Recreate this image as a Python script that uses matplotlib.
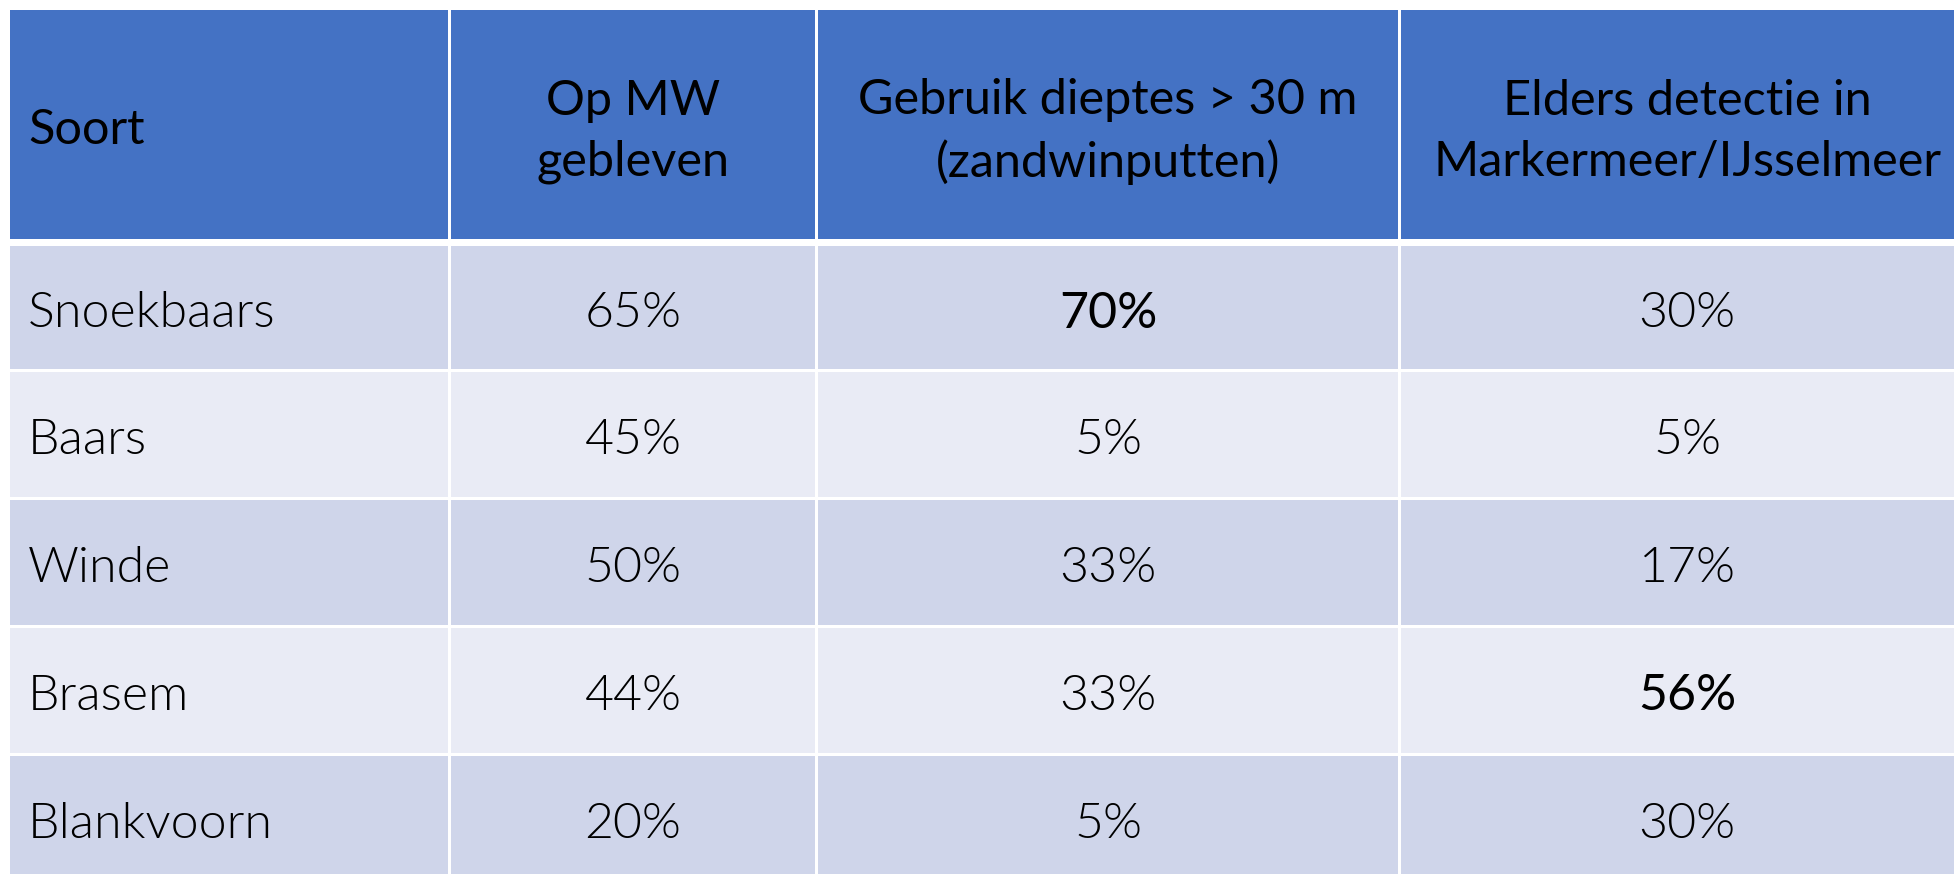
import matplotlib
matplotlib.use("Agg")
import matplotlib.pyplot as plt
from matplotlib.patches import Rectangle
from matplotlib import font_manager as fm
import os

# ---- data ----
header_labels = ["Soort", "Op MW\ngebleven", "Gebruik dieptes > 30 m\n(zandwinputten)",
                 "Elders detectie in\nMarkermeer/IJsselmeer"]
species = ["Snoekbaars", "Baars", "Winde", "Brasem", "Blankvoorn"]
op_mw = ["65%", "45%", "50%", "44%", "20%"]
diepte = ["70%", "5%", "33%", "33%", "5%"]
elders = ["30%", "5%", "17%", "56%", "30%"]
emphasis = [(0, 2), (3, 3)]  # (row, col) cells shown heavier

# ---- fonts ----
def find_font(family_key, style_key):
    for p in fm.findSystemFonts():
        name = os.path.basename(p).lower()
        if family_key in name and style_key in name and "italic" not in name:
            return p
    return None

light_path = find_font("lato", "light")
if light_path is None:
    light_path = find_font("lato", "regular")

def body_fp(size, heavy):
    if heavy or light_path is None:
        return fm.FontProperties(family="Lato", weight="normal", size=size)
    return fm.FontProperties(fname=light_path, size=size)

# ---- layout (pixels) ----
W, H = 1954, 874
col_edges = [10, 449.5, 816.5, 1399.5, 1975]
row_edges = [10, 242.5, 370.5, 498.5, 626.5, 754.5, 882.5]
vline = 2.6
hline = 2.8
header_line = 7.0
header_color = "#4472C4"
band_colors = ["#CFD5EA", "#E9EBF5"]

fig = plt.figure(figsize=(W / 100, H / 100), dpi=100)
ax = fig.add_axes([0, 0, 1, 1])
ax.set_xlim(0, W)
ax.set_ylim(H, 0)
ax.axis("off")

columns = [species, op_mw, diepte, elders]
nrows = len(species)

def cell_box(r, c):
    x0 = col_edges[c] + (0 if c == 0 else vline / 2)
    x1 = col_edges[c + 1] - (vline / 2)
    top = row_edges[r]
    bot = row_edges[r + 1]
    if r == 0:
        y0 = top
        y1 = bot - header_line / 2
    else:
        y0 = top + (header_line / 2 if r == 1 else hline / 2)
        y1 = bot - hline / 2
    return x0, y0, x1, y1

# header
for c, lab in enumerate(header_labels):
    x0, y0, x1, y1 = cell_box(0, c)
    ax.add_patch(Rectangle((x0, y0), x1 - x0, y1 - y0, color=header_color, lw=0))
    yc = (y0 + y1) / 2 + 7
    fp = fm.FontProperties(family="Lato", weight="normal", size=35)
    if c == 0:
        ax.text(x0 + 18, yc - 2, lab, ha="left", va="center", fontproperties=fp,
                color="black")
    else:
        ax.text((x0 + x1) / 2, yc, lab, ha="center", va="center", fontproperties=fp,
                color="black", linespacing=1.45)

# body
for r in range(nrows):
    for c in range(4):
        x0, y0, x1, y1 = cell_box(r + 1, c)
        ax.add_patch(Rectangle((x0, y0), x1 - x0, y1 - y0,
                               color=band_colors[r % 2], lw=0))
        yc = (y0 + y1) / 2 + 6
        fp = body_fp(36, (r, c) in emphasis)
        txt = columns[c][r]
        if c == 0:
            ax.text(x0 + 18, yc, txt, ha="left", va="center", fontproperties=fp,
                    color="black")
        else:
            ax.text((x0 + x1) / 2, yc, txt, ha="center", va="center",
                    fontproperties=fp, color="black")

fig.savefig("out.png", dpi=100, facecolor="white")
